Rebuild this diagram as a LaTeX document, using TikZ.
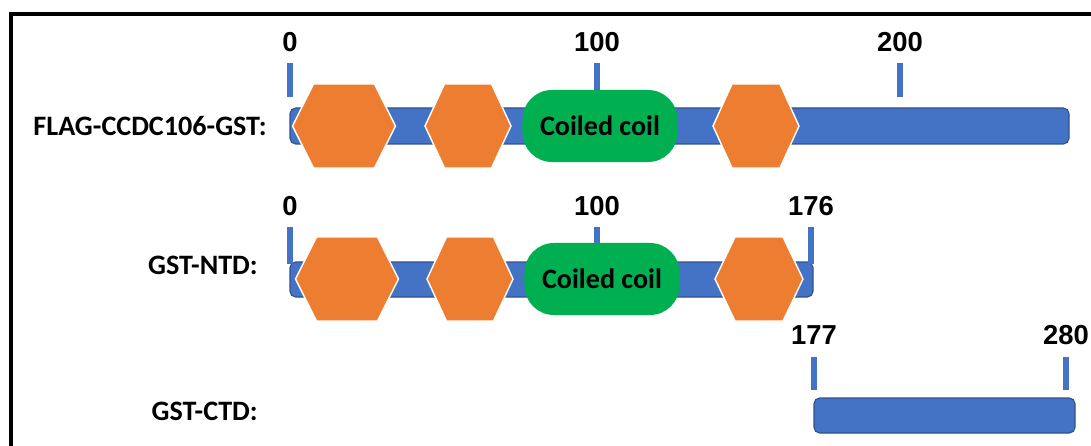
\documentclass[tikz,border=0pt]{standalone}
\usepackage{fontspec}
\setmainfont{Carlito}
\newfontfamily\numfont{Liberation Sans}
\usetikzlibrary{positioning}

\definecolor{barblue}{HTML}{4472C4}
\definecolor{bardark}{HTML}{2F528F}
\definecolor{hexorange}{HTML}{ED7D31}
\definecolor{coilgreen}{HTML}{00B050}

% hexagon domain: centre x, centre y, half width, half top edge
\newcommand{\domhex}[4]{%
  \filldraw[hexdom] (#1-#3,#2) -- (#1-#4,#2-42) -- (#1+#4,#2-42) -- (#1+#3,#2)
    -- (#1+#4,#2+42) -- (#1-#4,#2+42) -- cycle;}

\begin{document}
\begin{tikzpicture}[x=0.025cm, y=-0.025cm,
  label/.style={font=\bfseries\fontsize{20}{24}\selectfont, anchor=east, inner sep=0},
  num/.style={font=\numfont\bfseries\fontsize{19.5}{23}\selectfont, inner sep=0},
  tick/.style={draw=barblue, line width=3.6pt},
  bar/.style={fill=barblue, draw=bardark, line width=0.8pt, rounded corners=4pt},
  hexdom/.style={fill=hexorange, draw=white, line width=1pt},
  coil/.style={fill=coilgreen, rounded corners=21pt, minimum width=3.875cm, minimum height=1.8cm,
    font=\bfseries\fontsize{20}{24}\selectfont}]
	\useasboundingbox (0,0) rectangle (1091,446);
	\draw[line width=2.2pt] (11,446) -- (11,14) -- (1091,14);

	% FLAG-CCDC106-GST
	\node[label] (full) at (267,126) {FLAG-CCDC106-GST:};
	\draw[bar] (290,108) rectangle (1069,144);
	\foreach \x/\t in {290/0, 597/100, 900/200} {
		\node[num] (f\t) at (\x,42) {\t};
		\draw[tick] (\x,63) -- (\x,97);
	}
	\domhex{344}{126}{51.5}{30.5}
	\domhex{468}{126}{43}{23.5}
	\domhex{756}{126}{43}{24}
	\node[coil] (cc1) at (600,126) {Coiled coil};

	% GST-NTD
	\node[label] (ntd) at (258,265) {GST-NTD:};
	\draw[bar] (290,262) rectangle (813,297);
	\foreach \x/\t in {290/0, 597/100, 811/176} {
		\node[num] (n\t) at (\x,206) {\t};
		\draw[tick] (\x,227) -- (\x,264);
	}
	\domhex{347}{279}{51.5}{30.5}
	\domhex{470}{279}{43}{23.5}
	\domhex{759}{279}{44}{24}
	\node[coil] (cc2) at (602,279) {Coiled coil};

	% GST-CTD
	\node[label] (ctd) at (258,411) {GST-CTD:};
	\draw[bar] (814,398) rectangle (1075,433);
	\foreach \x/\t in {814/177, 1066/280} {
		\node[num] (c\t) at (\x,335) {\t};
		\draw[tick] (\x,357) -- (\x,390);
	}
\end{tikzpicture}
\end{document}
